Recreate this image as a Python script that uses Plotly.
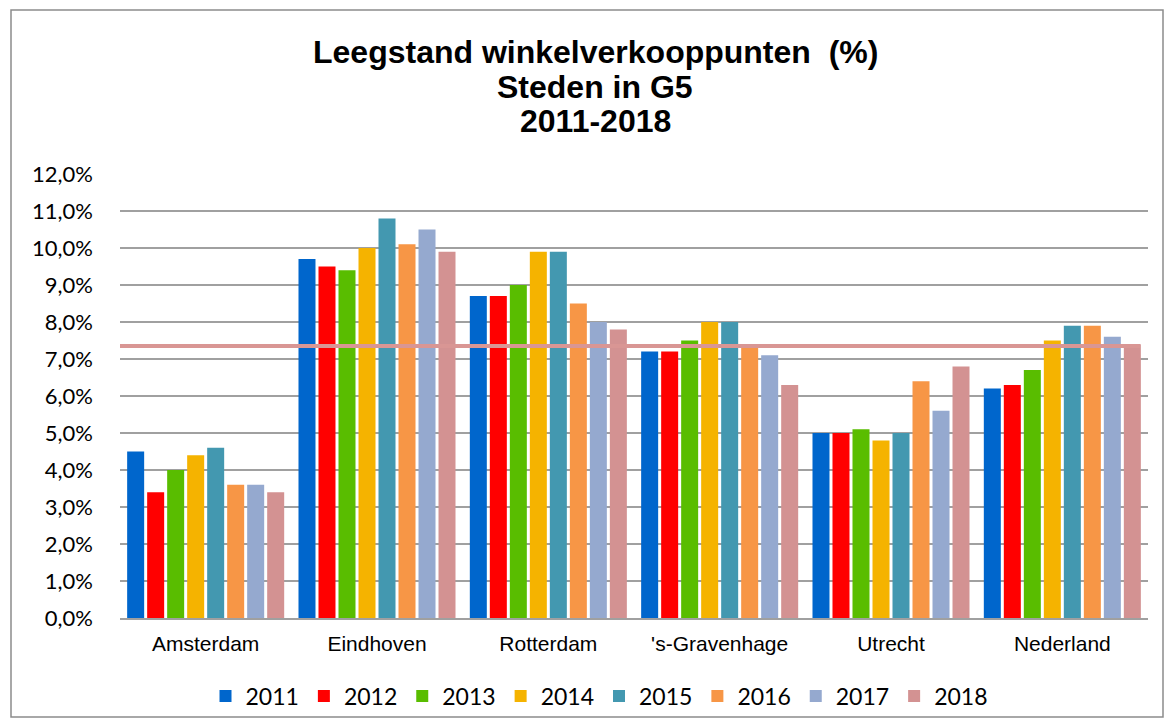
import plotly.graph_objects as go

categories = ["Amsterdam", "Eindhoven", "Rotterdam", "'s-Gravenhage", "Utrecht", "Nederland"]
years = ["2011", "2012", "2013", "2014", "2015", "2016", "2017", "2018"]

v2011 = [4.5, 9.7, 8.7, 7.2, 5.0, 6.2]
v2012 = [3.4, 9.5, 8.7, 7.2, 5.0, 6.3]
v2013 = [4.0, 9.4, 9.0, 7.5, 5.1, 6.7]
v2014 = [4.4, 10.0, 9.9, 8.0, 4.8, 7.5]
v2015 = [4.6, 10.8, 9.9, 8.0, 5.0, 7.9]
v2016 = [3.6, 10.1, 8.5, 7.4, 6.4, 7.9]
v2017 = [3.6, 10.5, 8.0, 7.1, 5.6, 7.6]
v2018 = [3.4, 9.9, 7.8, 6.3, 6.8, 7.4]
series = [v2011, v2012, v2013, v2014, v2015, v2016, v2017, v2018]

reference_line = 7.35

tick_vals = [0, 1, 2, 3, 4, 5, 6, 7, 8, 9, 10, 11, 12]
tick_text = ["0,0%", "1,0%", "2,0%", "3,0%", "4,0%", "5,0%", "6,0%", "7,0%",
             "8,0%", "9,0%", "10,0%", "11,0%", "12,0%"]

title_lines = ["Leegstand winkelverkooppunten  (%)", "Steden in G5", "2011-2018"]

colors = ["#0066CC", "#FF0000", "#59BD00", "#F5B300", "#4398B0", "#F79646", "#95A9CF", "#D39292"]

fig = go.Figure()
for yr, vals, col in zip(years, series, colors):
    fig.add_trace(go.Bar(name=yr, x=categories, y=vals, marker=dict(color=col, line=dict(width=0))))

# page body has an 8px margin; figure coordinates = screen - 8
OFF = 8
W, H = 1158, 712
L, R, T, B = 112, 18, 166, 102
pw, ph = W - L - R, H - T - B

def px_x(p):
    return (p - OFF - L) / pw

def px_y(p):
    return (H - B - (p - OFF)) / ph

fig.update_layout(
    width=W, height=H,
    margin=dict(l=L, r=R, t=T, b=B, autoexpand=False),
    paper_bgcolor="white", plot_bgcolor="white",
    barmode="group", bargap=0.066, bargroupgap=0.15,
    font=dict(family="Liberation Sans, Arial", color="black"),
    showlegend=True,
    legend=dict(
        orientation="h", x=px_x(599), xanchor="center", y=px_y(696), yanchor="middle",
        font=dict(family="Lato, Carlito, sans-serif", size=23, color="black"),
        traceorder="normal", itemwidth=30, bgcolor="rgba(0,0,0,0)",
    ),
    xaxis=dict(
        showgrid=False, showline=True, linecolor="#A0A0A0", linewidth=2,
        tickfont=dict(family="Liberation Sans, Arial", size=21, color="black"),
        ticks="", ticklabelstandoff=6,
    ),
    yaxis=dict(
        range=[0, 12], tickvals=tick_vals, ticktext=tick_text,
        showgrid=True, gridcolor="#A0A0A0", gridwidth=1.5,
        zeroline=False, showline=False, ticks="",
        tickfont=dict(family="Lato, Carlito, sans-serif", size=22, color="black"),
        ticklabelstandoff=26,
    ),
)

for line, ycen in zip(title_lines, [53, 88, 122]):
    fig.add_annotation(
        text="<b>%s</b>" % line, xref="paper", yref="paper",
        x=px_x(595), y=px_y(ycen - 1), xanchor="center", yanchor="middle",
        showarrow=False,
        font=dict(family="Liberation Sans, Arial", size=32, color="black"),
    )

fig.add_shape(type="line", xref="paper", yref="y", x0=0, x1=px_x(1140),
              y0=reference_line, y1=reference_line,
              line=dict(color="#D99694", width=4), layer="above")

fig.add_shape(type="rect", xref="paper", yref="paper",
              x0=px_x(11), x1=px_x(1163), y0=px_y(10), y1=px_y(717),
              line=dict(color="#8C8C8C", width=1.5), layer="below")

fig.write_html("out.html")
